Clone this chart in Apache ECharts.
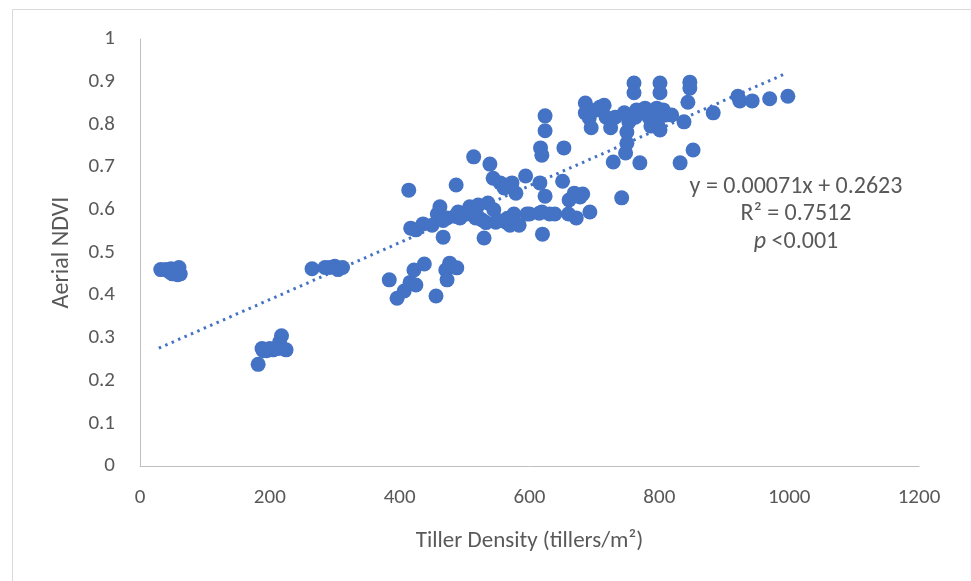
<!DOCTYPE html>
<html>
<head>
<meta charset="utf-8">
<script src="https://cdn.jsdelivr.net/npm/echarts@6/dist/echarts.min.js"></script>
<style>html,body{margin:0;padding:0;background:#fff;}#c{width:971px;height:581px;}</style>
</head>
<body>
<div id="c"></div>
<script>
// Tiller density (tillers/m2) values
const tillerDensity = [
  32,40,45,50,55,60,62,48,58,
  182,188,195,200,205,212,215,218,225,190,
  265,285,292,300,305,312,
  384,396,407,416,422,425,438,456,471,473,477,488,
  414,417,425,436,450,462,467,473,487,493,501,508,514,517,521,527,530,536,539,544,548,555,561,564,570,573,576,579,584,594,596,
  616,617,619,620,624,624,624,631,639,651,653,661,669,672,678,682,693,
  686,686,692,695,702,709,715,718,725,729,732,742,746,748,750,750,753,761,761,763,765,770,778,784,787,792,796,801,801,798,801,806,810,819,832,838,844,847,847,852,
  883,921,924,943,970,998,
  545,458,467,485,490,503,508,520,533,552,566,600,619,660,615
];
// Aerial NDVI values
const aerialNDVI = [
  0.460,0.460,0.455,0.450,0.460,0.465,0.450,0.462,0.448,
  0.238,0.275,0.270,0.275,0.272,0.275,0.290,0.305,0.272,0.270,
  0.462,0.465,0.465,0.468,0.460,0.465,
  0.436,0.393,0.410,0.430,0.459,0.424,0.473,0.398,0.459,0.436,0.475,0.464,
  0.646,0.557,0.553,0.567,0.564,0.607,0.536,0.581,0.658,0.581,0.593,0.607,0.724,0.581,0.611,0.576,0.534,0.616,0.707,0.674,0.571,0.663,0.651,0.571,0.564,0.663,0.590,0.639,0.564,0.679,0.590,
  0.663,0.745,0.595,0.543,0.785,0.820,0.632,0.590,0.590,0.667,0.745,0.623,0.639,0.581,0.630,0.637,0.595,
  0.850,0.827,0.815,0.792,0.834,0.841,0.845,0.817,0.792,0.712,0.817,0.628,0.827,0.733,0.756,0.782,0.806,0.897,0.874,0.817,0.834,0.710,0.838,0.817,0.796,0.829,0.838,0.897,0.874,0.798,0.787,0.834,0.822,0.822,0.710,0.806,0.852,0.899,0.885,0.740,
  0.827,0.866,0.855,0.855,0.860,0.866,
  0.600,0.590,0.575,0.585,0.595,0.590,0.600,0.585,0.570,0.575,0.580,0.590,0.728,0.590,0.592
];
// Linear trend line endpoints
const trendX = [29, 993];
const trendY = [0.276, 0.918];
const xTicks = [0, 200, 400, 600, 800, 1000, 1200];
const yTicks = [0, 0.1, 0.2, 0.3, 0.4, 0.5, 0.6, 0.7, 0.8, 0.9, 1];
const annotation = ['y = 0.00071x + 0.2623', 'R² = 0.7512', '{i|p} <0.001'];

const points = tillerDensity.map((x, i) => [x, aerialNDVI[i]]);
const trend = trendX.map((x, i) => [x, trendY[i]]);

const chart = echarts.init(document.getElementById('c'), null, {renderer: 'canvas'});
const font = 'Carlito, Calibri, Lato, "Open Sans", "Noto Sans", sans-serif';
chart.setOption({
  backgroundColor: '#ffffff',
  animation: false,
  textStyle: {fontFamily: font},
  grid: {left: 140, top: 39, right: 52, bottom: 115, containLabel: false},
  xAxis: {
    type: 'value', min: xTicks[0], max: xTicks[xTicks.length - 1], interval: 200,
    name: 'Tiller Density (tillers/m²)', nameLocation: 'middle', nameGap: 64,
    nameTextStyle: {color: '#595959', fontSize: 23, fontFamily: font},
    axisLine: {show: true, lineStyle: {color: '#bfbfbf', width: 1}},
    axisTick: {show: false},
    splitLine: {show: false},
    axisLabel: {color: '#595959', fontSize: 21, margin: 21, fontFamily: font,
      formatter: v => String(v)}
  },
  yAxis: {
    type: 'value', min: yTicks[0], max: yTicks[yTicks.length - 1], interval: 0.1,
    name: 'Aerial NDVI', nameLocation: 'middle', nameGap: 66, nameRotate: 90,
    nameTextStyle: {color: '#595959', fontSize: 24, fontFamily: font},
    axisLine: {show: true, lineStyle: {color: '#bfbfbf', width: 1}},
    axisTick: {show: false},
    splitLine: {show: false},
    axisLabel: {color: '#595959', fontSize: 21, margin: 25, fontFamily: font,
      formatter: v => String(Math.round(v * 10) / 10)}
  },
  graphic: [
    {type: 'rect', shape: {x: 12.5, y: 9.5, width: 1000, height: 700},
     style: {fill: 'none', stroke: '#d9d9d9', lineWidth: 1}, z: -1, silent: true},
    {type: 'text', x: 796, y: 173, z: 10,
     style: {text: annotation.join('\n'), fill: '#595959', fontSize: 24, fontFamily: font,
       align: 'center', verticalAlign: 'top', lineHeight: 27.5,
       rich: {i: {fontStyle: 'italic', fontSize: 24, fill: '#595959', fontFamily: font}}}}
  ],
  series: [
    {
      type: 'scatter', data: points, symbolSize: 15,
      itemStyle: {color: '#4472C4', opacity: 1}, z: 3
    },
    {
      type: 'line', data: trend, showSymbol: false, symbol: 'none',
      lineStyle: {color: '#4472C4', width: 3, type: [2.5, 4.5]}, z: 4
    }
  ]
});
</script>
</body>
</html>
